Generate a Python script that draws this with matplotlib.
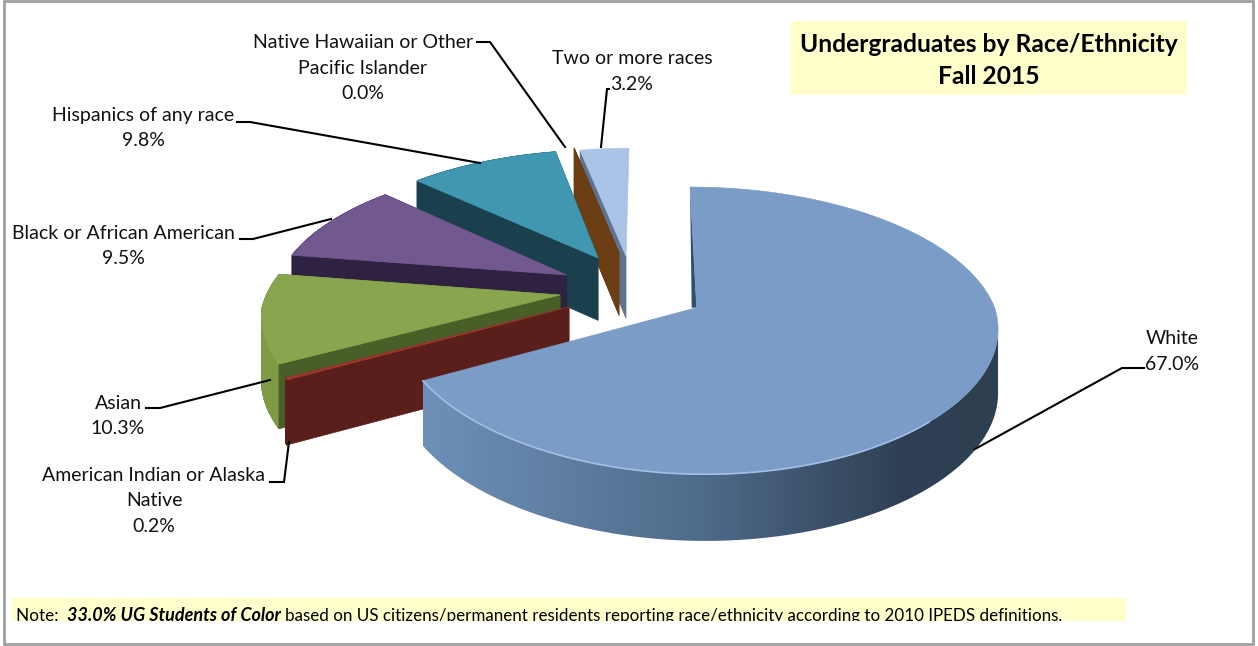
import numpy as np
import matplotlib
matplotlib.use("Agg")
import matplotlib.pyplot as plt
from matplotlib.colors import to_rgb
from matplotlib.patches import Rectangle, Polygon
from matplotlib.collections import PolyCollection

plt.rcParams['font.family'] = ['Lato', 'DejaVu Sans']

# data
categories = ["White", "American Indian or Alaska\nNative", "Asian",
              "Black or African American", "Hispanics of any race",
              "Native Hawaiian or Other\nPacific Islander", "Two or more races"]
values = [67.0, 0.2, 10.3, 9.5, 9.8, 0.0, 3.2]
title_lines = "Undergraduates by Race/Ethnicity\nFall 2015"

# colours, same order as the categories
top_colors = ['#7A9CC6', '#A5352F', '#89A54E', '#71588F', '#3F97B2', '#6B3D12', '#A9C4E6']
side_colors = ['#4F6B8A', '#5A1F1A', '#4A5F27', '#2E2141', '#1A3F4D', '#6B3D12', '#5F7390']
rim_colors = ['#4F6B8A', '#5A1F1A', '#7F9A45', '#2E2141', '#1A3F4D', '#6B3D12', '#5F7390']

# layout: tip of each exploded slice on the picture
tips = [(696.7, 307.7), (569, 307), (560, 295), (566.7, 275), (598, 258), (619, 253), (626, 256)]

# layout of the labels: centre x, first line y, leader line
label_x = [1172, 154, 118, 123, 143, 363, 632]
label_y = [338.5, 475.5, 403.5, 233.5, 115.5, 42.5, 58.5]
leaders = [[(1144, 368), (1122, 368), (975, 449)],
           [(270, 482), (284, 482), (289, 442)],
           [(146, 408), (160, 408), (270, 380)],
           [(240, 239), (253, 239), (331, 219)],
           [(237, 122), (250, 122), (480, 163)],
           [(477, 42), (490, 42), (565, 147)],
           [(609, 89), (607, 89), (601, 147)]]

# pie plane seen in perspective
CX, CY, RX, RY = 695, 308, 298, 140
K, K_FRONT, SKEW = 0.16, 0.125, -0.025
DEPTH = 63.5


def x_factor(V):
    return 1 / (1 + np.where(np.asarray(V) < 0, K_FRONT, K) * V)


def project(U, V):
    return CX + RX * (U + SKEW * V) * x_factor(V), CY - RY * V / (1 + K * V)


def unproject(x, y):
    t = (CY - y) / RY
    V = t / (1 - K * t)
    return (x - CX) / (RX * x_factor(V)) - SKEW * V, V


def depth(V):
    return DEPTH * (1 - 0.05 * V)


def draw_white_rim(ax, xs, ys, ds):
    # only the front part, from the rightmost point on, so the outline does not cross itself
    j = np.argmax(xs)
    xf, yf, df = xs[j:], ys[j:], ds[j:]
    stops = [422, 700, 900, 1000]
    cols = np.array([to_rgb(c) for c in ['#6E90B8', '#4F6B8A', '#2F4054', '#2E3F52']])
    grid = np.linspace(xf.min(), xf.max(), 400)
    grad = np.stack([np.interp(grid, stops, cols[:, c]) for c in range(3)], axis=-1)[None, :, :]
    rim = Polygon(list(zip(xf, yf)) + list(zip(xf[::-1], (yf + df)[::-1])),
                  facecolor='none', edgecolor='none')
    ax.add_patch(rim)
    im = ax.imshow(grad, extent=[xf.min(), xf.max(), (yf + df).max(), yf.min()],
                   aspect='auto', interpolation='bilinear', zorder=1)
    im.set_clip_path(rim)
    ax.set_xlim(0, 1258)
    ax.set_ylim(646, 0)


def draw_slice(ax, i, a0, a1):
    U0, V0 = unproject(*tips[i])
    th = np.radians(np.linspace(a0, a1, 300))
    xs, ys = project(U0 + np.sin(th), V0 + np.cos(th))
    ds = depth(V0 + np.cos(th))
    tx, ty = tips[i]
    td = depth(V0)

    if i == 0:
        draw_white_rim(ax, xs, ys, ds)
        # dark sliver on the left of the white slice cut
        ax.add_patch(Polygon([(xs[0], ys[0]), (tx, ty), (tx - 5, ty)],
                             facecolor='#2F4F70', edgecolor='none'))
    else:
        # last slice faces away, its rim and right cut stay hidden
        if i != 6:
            # outer rim as small quads, the outline of a curved rim would cross itself
            quads = [[(xs[j], ys[j]), (xs[j + 1], ys[j + 1]),
                      (xs[j + 1], ys[j + 1] + ds[j + 1]), (xs[j], ys[j] + ds[j])]
                     for j in range(len(xs) - 1)]
            ax.add_collection(PolyCollection(quads, facecolors=rim_colors[i],
                                             edgecolors=rim_colors[i], linewidths=0.5))
        # the two cut faces
        for k in ((0,) if i == 6 else (0, -1)):
            ax.add_patch(Polygon([(tx, ty), (xs[k], ys[k]), (xs[k], ys[k] + ds[k]), (tx, ty + td)],
                                 facecolor=side_colors[i], edgecolor=side_colors[i], lw=0.5))

    # top face
    ax.add_patch(Polygon(list(zip(xs, ys)) + [(tx, ty)], facecolor=top_colors[i],
                         edgecolor=top_colors[i], lw=0.5))

    if i == 0:
        # light edge on the front of the top face
        front = (xs < 930) & (th > np.radians(120))
        ax.plot(xs[front], ys[front], color='#A3C0E4', lw=1.2, solid_capstyle='round')


fig = plt.figure(figsize=(12.58, 6.46), dpi=100)
ax = fig.add_axes([0, 0, 1, 1])
ax.set_xlim(0, 1258)
ax.set_ylim(646, 0)
ax.axis('off')

# outer frame
ax.add_patch(Rectangle((4, 1), 1249, 643, facecolor='white', edgecolor='#A0A0A0', lw=2,
                       joinstyle='miter', zorder=0.5))

# slices, far ones first
edges = np.concatenate([[0], np.cumsum(values)]) / sum(values) * 360
for i in [6, 5, 4, 3, 2, 1, 0]:
    draw_slice(ax, i, edges[i], edges[i + 1])

# leader lines and labels
for i, cat in enumerate(categories):
    px, py = zip(*leaders[i])
    ax.plot(px, py, color='black', lw=1.5, solid_joinstyle='miter', zorder=3)
    for n, line in enumerate((cat + "\n" + f"{values[i]:.1f}%").split("\n")):
        ax.text(label_x[i], label_y[i] + n * 25.5, line, ha='center', va='center',
                fontsize=14, color='#111111')

# title box
ax.add_patch(Rectangle((791, 21), 396, 74, facecolor='#FFFFCC', edgecolor='none'))
for n, line in enumerate(title_lines.split("\n")):
    ax.text(989, 45 + n * 32, line, ha='center', va='center', fontsize=17.7, fontweight='bold',
            color='black')

# note box, the text is cut at the bottom of the box like in the original
note_box = Rectangle((12, 598), 1114, 23, facecolor='#FFFFCC', edgecolor='none')
ax.add_patch(note_box)
renderer = fig.canvas.get_renderer()
x = 16
for txt, weight, style, size in [("Note:  ", 'normal', 'normal', 12.35),
                                 ("33.0% UG Students of Color ", 'bold', 'italic', 13),
                                 ("based on US citizens/permanent residents reporting race/ethnicity "
                                  "according to 2010 IPEDS definitions.", 'normal', 'normal', 12.25)]:
    t = ax.text(x, 621, txt, ha='left', va='baseline', fontsize=size, fontweight=weight,
                fontstyle=style, color='black')
    t.set_clip_on(True)
    t.set_clip_path(note_box)
    # width with the trailing spaces counted
    w1 = ax.text(0, 0, txt + "|", fontsize=size, fontweight=weight, fontstyle=style)
    w2 = ax.text(0, 0, "|", fontsize=size, fontweight=weight, fontstyle=style)
    x += w1.get_window_extent(renderer).width - w2.get_window_extent(renderer).width
    w1.remove()
    w2.remove()

fig.savefig('out.png', dpi=100)
